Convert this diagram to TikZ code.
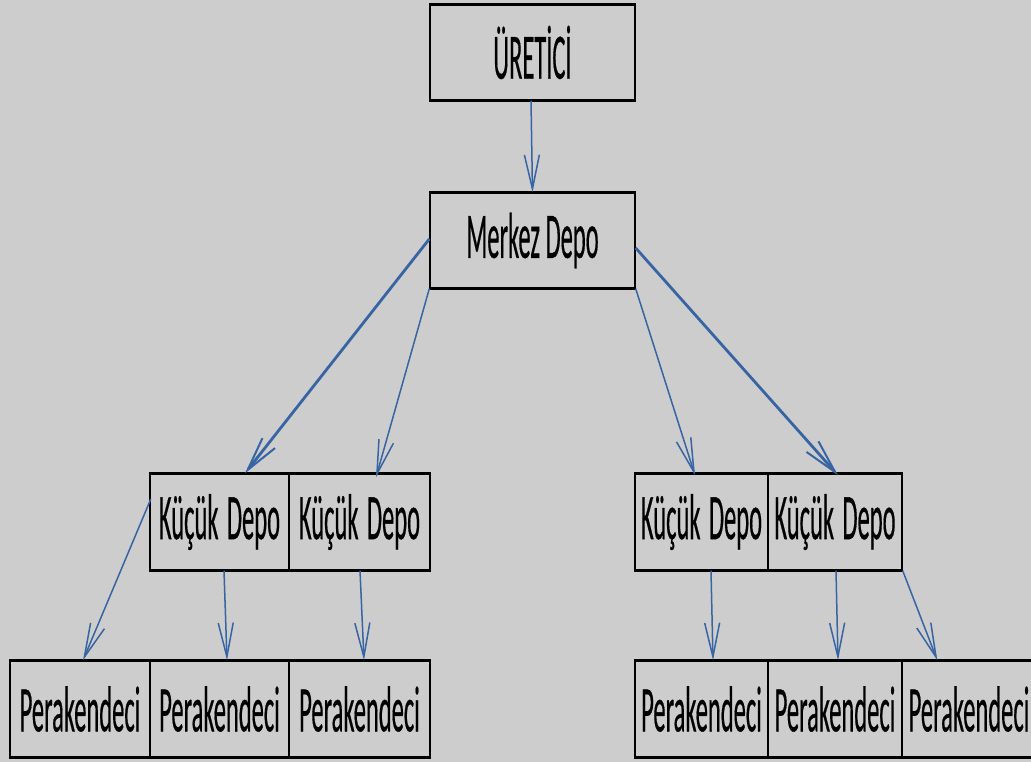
\documentclass[tikz,border=0pt]{standalone}
\usepackage{fontspec}
\newfontfamily\lblfont{Carlito}[FakeBold=0.6]
\usepackage{graphicx}
\usetikzlibrary{arrows.meta}
\definecolor{bg}{RGB}{205,205,205}
\definecolor{arr}{RGB}{55,100,162}
\newcommand{\lbl}[1]{\scalebox{1}[2.65]{\fontsize{24.5}{26}\lblfont #1}}
\tikzset{
  cell/.style={draw=black, line width=1.4pt, fill=bg, inner sep=0pt, minimum height=96pt, anchor=center},
  edgeline/.style={line width=3.4pt, black},
  conn/.style={draw=arr, line width=1.5pt, -{Straight Barb[length=34pt,width=15pt,line width=1.5pt]}},
  bigconn/.style={draw=arr, line width=2.8pt, -{Straight Barb[length=34pt,width=16pt,line width=2pt]}}
}
\begin{document}
\begin{tikzpicture}[x=1pt,y=-1pt]
\fill[bg] (0,0) rectangle (1031,762);
\useasboundingbox (0,0) rectangle (1031,762);
% top
\node[cell, minimum width=205pt, minimum height=95pt] (u) at (532.5,52.5) {\lbl{ÜRETİCİ}};
\node[cell, minimum width=205pt, minimum height=95pt] (m) at (532.5,240.5) {\lbl{Merkez Depo}};
% small depots
\node[cell, minimum width=139pt] (k1) at (219.5,522) {\lbl{Küçük\hspace{3pt} Depo}};
\node[cell, minimum width=141pt] (k2) at (359.5,522) {\lbl{Küçük\hspace{3pt} Depo}};
\node[cell, minimum width=133pt] (k3) at (701.5,522) {\lbl{Küçük\hspace{3pt} Depo}};
\node[cell, minimum width=134pt] (k4) at (835,522) {\lbl{Küçük\hspace{3pt} Depo}};
% retailers
\node[cell, minimum width=140pt] (p1) at (80,709) {\lbl{Perakendeci}};
\node[cell, minimum width=139pt] (p2) at (219.5,709) {\lbl{Perakendeci}};
\node[cell, minimum width=141pt] (p3) at (359.5,709) {\lbl{Perakendeci}};
\node[cell, minimum width=133pt] (p4) at (701.5,709) {\lbl{Perakendeci}};
\node[cell, minimum width=134pt] (p5) at (835,709) {\lbl{Perakendeci}};
\node[cell, minimum width=134pt] (p6) at (969,709) {\lbl{Perakendeci}};
% thick top/bottom edges
\draw[edgeline] (u.north west) -- (u.north east);
\draw[edgeline] (u.south west) -- (u.south east);
\draw[edgeline] (m.north west) -- (m.north east);
\draw[edgeline] (m.south west) -- (m.south east);
\draw[edgeline] (k1.north west) -- (k2.north east);
\draw[edgeline] (k1.south west) -- (k2.south east);
\draw[edgeline] (k3.north west) -- (k4.north east);
\draw[edgeline] (k3.south west) -- (k4.south east);
\draw[edgeline] (p1.north west) -- (p3.north east);
\draw[edgeline] (p1.south west) -- (p3.south east);
\draw[edgeline] (p4.north west) -- (p6.north east);
\draw[edgeline] (p4.south west) -- (p6.south east);
% connectors
\draw[conn] ([xshift=-1.5pt]u.south) -- (m.north);
\draw[bigconn] ([yshift=1.5pt]m.west) -- ([xshift=25.5pt]k1.north);
\draw[conn] (m.south west) -- ([xshift=16.5pt,yshift=-4pt]k2.north);
\draw[conn] (m.south east) -- ([xshift=-6.5pt,yshift=-2pt]k3.north);
\draw[bigconn] ([yshift=-7.5pt]m.east) -- ([xshift=3pt,yshift=-2pt]k4.north);
\draw[conn] ([xshift=1.5pt,yshift=23pt]k1.west) -- ([xshift=3pt]p1.north);
\draw[conn] ([xshift=4.5pt]k1.south) -- ([xshift=7.5pt]p2.north);
\draw[conn] ([xshift=0.5pt]k2.south) -- ([xshift=4.5pt]p3.north);
\draw[conn] ([xshift=9.5pt]k3.south) -- ([xshift=11.5pt]p4.north);
\draw[conn] ([xshift=1pt]k4.south) -- ([xshift=3pt]p5.north);
\draw[conn] (k4.south east) -- ([xshift=36pt]p6.north west);
\end{tikzpicture}
\end{document}
